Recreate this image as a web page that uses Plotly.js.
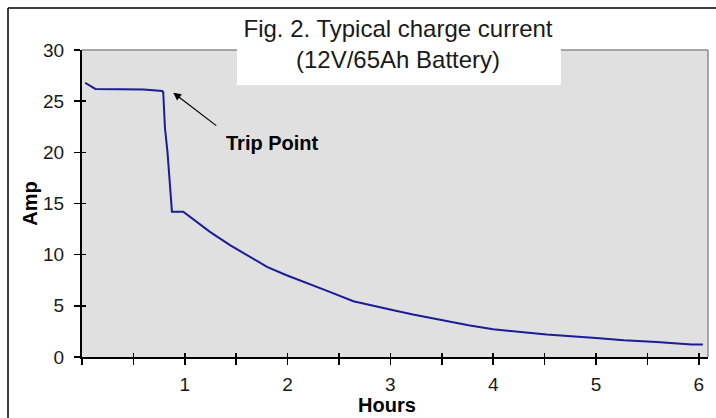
<!DOCTYPE html>
<html>
<head>
<meta charset="utf-8">
<script src="https://cdn.plot.ly/plotly-3.0.1.min.js"></script>
<style>html,body{margin:0;padding:0;background:#fff;}#chart{width:716px;height:418px;}</style>
</head>
<body>
<div id="chart"></div>
<script>
// Charge current (Amp) vs time (Hours)
const hours = [0.03, 0.13, 0.60, 0.78, 0.79, 0.807, 0.832, 0.851, 0.871, 0.875, 0.985, 1.083, 1.245, 1.44, 1.60, 1.80, 1.99, 2.19, 2.41, 2.64, 2.83, 3.03, 3.22, 3.42, 3.58, 3.76, 4.00, 4.34, 4.52, 5.00, 5.27, 5.59, 5.93, 6.04];
const amps  = [26.8, 26.2, 26.15, 26.0, 25.9, 22.4, 20.0, 17.8, 15.5, 14.2, 14.2, 13.44, 12.23, 10.93, 9.95, 8.81, 7.99, 7.18, 6.36, 5.45, 4.99, 4.57, 4.15, 3.76, 3.40, 3.10, 2.71, 2.39, 2.19, 1.86, 1.63, 1.47, 1.21, 1.21];

const xTickVals = [0, 0.5, 1, 1.5, 2, 2.5, 3, 3.5, 4, 4.5, 5, 5.5, 6];
const xTickText = ['', '', '1', '', '2', '', '3', '', '4', '', '5', '', '6'];
const yTickVals = [0, 5, 10, 15, 20, 25, 30];
const yTickText = ['0', '5', '10', '15', '20', '25', '30'];

const tripPoint = {x: 0.888, y: 25.83};
const tripLabel = {x: 1.858, y: 20.88, text: '<b>Trip Point</b>'};
const xTitle = '<b>Hours</b>';
const yTitle = '<b>Amp</b>';

const FONT = '"Liberation Sans", Arial, sans-serif';

const traces = [
  {x: hours, y: amps, type: 'scatter', mode: 'lines',
   line: {color: '#1c1c96', width: 2}, hoverinfo: 'skip', showlegend: false},
  {x: [], y: [], type: 'scatter', mode: 'lines', xaxis: 'x2', yaxis: 'y2',
   hoverinfo: 'skip', showlegend: false}
];

const layout = {
  width: 716, height: 418,
  margin: {l: 82, r: 8, t: 50, b: 61, pad: 0},
  paper_bgcolor: '#ffffff',
  plot_bgcolor: '#e0e0e0',
  font: {family: FONT, color: '#1a1a1a', size: 19},
  showlegend: false,
  title: {
    text: 'Fig. 2. Typical charge current<br>(12V/65Ah Battery)',
    font: {family: FONT, size: 24, color: '#1a1a1a'},
    x: 398 / 716, xanchor: 'center', xref: 'container',
    y: 1 - 37 / 418, yanchor: 'middle', yref: 'container'
  },
  xaxis: {
    range: [0, 6.09], tickmode: 'array', tickvals: xTickVals, ticktext: xTickText,
    ticks: 'outside', ticklen: 6, tickwidth: 1.5, tickcolor: '#000',
    showline: true, linecolor: '#000', linewidth: 2,
    showgrid: false, zeroline: false, fixedrange: true,
    tickfont: {family: FONT, size: 19, color: '#1a1a1a'},
    ticklabelstandoff: 3
  },
  yaxis: {
    range: [0, 30], tickmode: 'array', tickvals: yTickVals, ticktext: yTickText,
    ticks: 'outside', ticklen: 6, tickwidth: 1.5, tickcolor: '#000',
    showline: true, linecolor: '#000', linewidth: 2,
    showgrid: false, zeroline: false, fixedrange: true,
    tickfont: {family: FONT, size: 19, color: '#1a1a1a'},
    ticklabelstandoff: 6,
    title: {text: yTitle, font: {family: FONT, size: 20, color: '#000'}, standoff: 0}
  },
  xaxis2: {
    overlaying: 'x', anchor: 'y2', range: [0, 6.09], tickmode: 'array', tickvals: xTickVals,
    ticks: 'inside', ticklen: 4, tickwidth: 1.5, tickcolor: '#000',
    showticklabels: false, showline: false, showgrid: false, zeroline: false, fixedrange: true
  },
  yaxis2: {
    overlaying: 'y', anchor: 'x2', side: 'left', range: [0, 30], tickmode: 'array', tickvals: yTickVals,
    ticks: 'inside', ticklen: 4, tickwidth: 1.5, tickcolor: '#000',
    showticklabels: false, showline: false, showgrid: false, zeroline: false, fixedrange: true
  },
  shapes: [
    {type: 'line', xref: 'paper', yref: 'paper', x0: 0, x1: 1, y0: 1, y1: 1,
     line: {color: '#8c8c8c', width: 1.5}, layer: 'above'},
    {type: 'line', xref: 'paper', yref: 'paper', x0: 1, x1: 1, y0: 0, y1: 1,
     line: {color: '#8c8c8c', width: 1.5}, layer: 'above'},
    {type: 'rect', xref: 'paper', yref: 'paper', x0: 0.2476, x1: 0.765, y0: 0.886, y1: 1.13,
     fillcolor: '#ffffff', line: {width: 0}, layer: 'above'},
    {type: 'line', xref: 'paper', yref: 'paper', x0: -0.1182, x1: -0.1182, y0: -0.3, y1: 1.1368,
     line: {color: '#000', width: 1.5}, layer: 'above'},
    {type: 'line', xref: 'paper', yref: 'paper', x0: -0.1182, x1: 1.1, y0: 1.1368, y1: 1.1368,
     line: {color: '#000', width: 1.5}, layer: 'above'}
  ],
  annotations: [
    {x: tripPoint.x, y: tripPoint.y, xref: 'x', yref: 'y', text: ' ', showarrow: true,
     ax: 47, ay: 36, axref: 'pixel', ayref: 'pixel', arrowhead: 2, arrowsize: 1.3,
     arrowwidth: 1.2, arrowcolor: '#000', standoff: 0},
    {x: tripLabel.x, y: tripLabel.y, xref: 'x', yref: 'y', text: tripLabel.text, showarrow: false,
     font: {family: FONT, size: 20, color: '#000'}, xanchor: 'center', yanchor: 'middle'},
    {x: (387 - 82) / 626, y: (357 - 405) / 307, xref: 'paper', yref: 'paper', text: xTitle,
     showarrow: false, font: {family: FONT, size: 20, color: '#000'}, xanchor: 'center', yanchor: 'middle'}
  ]
};

Plotly.newPlot('chart', traces, layout, {displayModeBar: false, staticPlot: true});
</script>
</body>
</html>
